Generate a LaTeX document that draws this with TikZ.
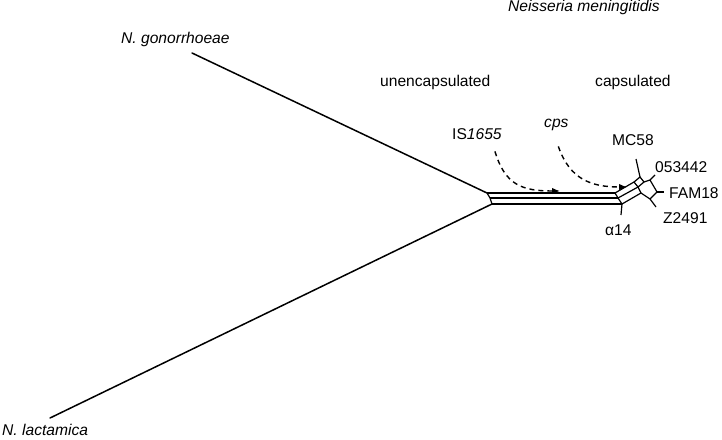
\documentclass[tikz,border=0pt]{standalone}
\usepackage{fontspec}
\setmainfont{Liberation Sans}
\usetikzlibrary{arrows.meta}

\begin{document}
\begin{tikzpicture}[
    x=1pt, y=-1pt,
    >=Latex, % filled arrow tips
    % Styles
    taxon/.style={ % strain and species labels
        inner sep=0pt,
        anchor=base west,
        font=\fontsize{15.6}{18}\selectfont
    },
    branch/.style={ % long outgroup branches
        line width=1.5pt,
        line cap=round
    },
    split/.style={ % network edges
        line width=1.2pt,
        line join=round
    },
    insertion/.style={ % dashed arrows for acquired loci
        -{Latex[length=8pt,width=6.5pt]},
        dash pattern=on 5pt off 4pt,
        line width=1.4pt
    }
]
    \useasboundingbox (0,0) rectangle (722,439);

    % Labels
    \node[taxon] (gon) at (121,43) {\itshape N. gonorrhoeae};
    \node[taxon] (lac) at (2,435) {\itshape N. lactamica};
    \node[taxon, anchor=base east] (nme) at (660,12) {\itshape Neisseria meningitidis};
    \node[taxon] (unenc) at (380,86) {unencapsulated};
    \node[taxon] (caps) at (595,86) {capsulated};
    \node[taxon] (is) at (452,139) {IS\textit{1655}};
    \node[taxon] (cps) at (544,127) {\itshape cps};
    \node[taxon] (mc) at (612,145) {MC58};
    \node[taxon] (s053) at (655,172) {053442};
    \node[taxon] (fam) at (669,198) {FAM18};
    \node[taxon] (z) at (663,223) {Z2491};
    \node[taxon] (alpha) at (605,235) {α14};

    % Network vertices
    \coordinate (tipG) at (192,53);
    \coordinate (tipL) at (50,418);
    \coordinate (a1) at (487,193);
    \coordinate (a2) at (490,198);
    \coordinate (a3) at (492,204);
    \coordinate (b1) at (615,193);
    \coordinate (b2) at (618,198);
    \coordinate (b3) at (622,204);
    \coordinate (c1) at (634,182);
    \coordinate (c2) at (638,187);
    \coordinate (c3) at (641,193);
    \coordinate (e1) at (640,177);
    \coordinate (e2) at (644,182);
    \coordinate (k1) at (650,180);
    \coordinate (k2) at (657,192);
    \coordinate (k3) at (650,199);
    % pendant ends
    \coordinate (pMC) at (636,159);
    \coordinate (p053) at (655,175);
    \coordinate (pFAM) at (664,192);
    \coordinate (pZ) at (656,207);
    \coordinate (pA) at (621,215);
    % arrow targets
    \coordinate (isEnd) at (560,191);
    \coordinate (cpsEnd) at (627,187);

    % Outgroup branches
    \draw[branch] (tipG) -- (a1);
    \draw[branch] (tipL) -- (a3);

    % Band of parallel splits
    \draw[split] (a1) -- (a2) -- (a3);
    \draw[split, line width=1.7pt] (a1) -- (b1);
    \draw[split] (a2) -- (b2);
    \draw[split] (a3) -- (b3);
    \draw[split] (b1) -- (b2) -- (b3);
    \draw[split] (b1) -- (c1);
    \draw[split] (b2) -- (c2);
    \draw[split] (b3) -- (c3);
    \draw[split] (c1) -- (c2) -- (c3);
    \draw[split] (c1) -- (e1) -- (e2) -- (c2);
    \draw[split] (e2) -- (k1) -- (k2) -- (k3) -- (c3);

    % Pendant edges
    \draw[split] (e1) -- (pMC);
    \draw[split] (k1) -- (p053);
    \draw[split] (k2) -- (pFAM);
    \draw[split] (k3) -- (pZ);
    \draw[split] (b3) -- (pA);

    % Insertion arrows
    \draw[insertion] ([xshift=18pt,yshift=-12pt]is.south) .. controls (505,185) and (522,191) .. (isEnd);
    \draw[insertion] ([xshift=2pt,yshift=-16pt]cps.south) .. controls (570,180) and (592,187) .. (cpsEnd);
\end{tikzpicture}
\end{document}
